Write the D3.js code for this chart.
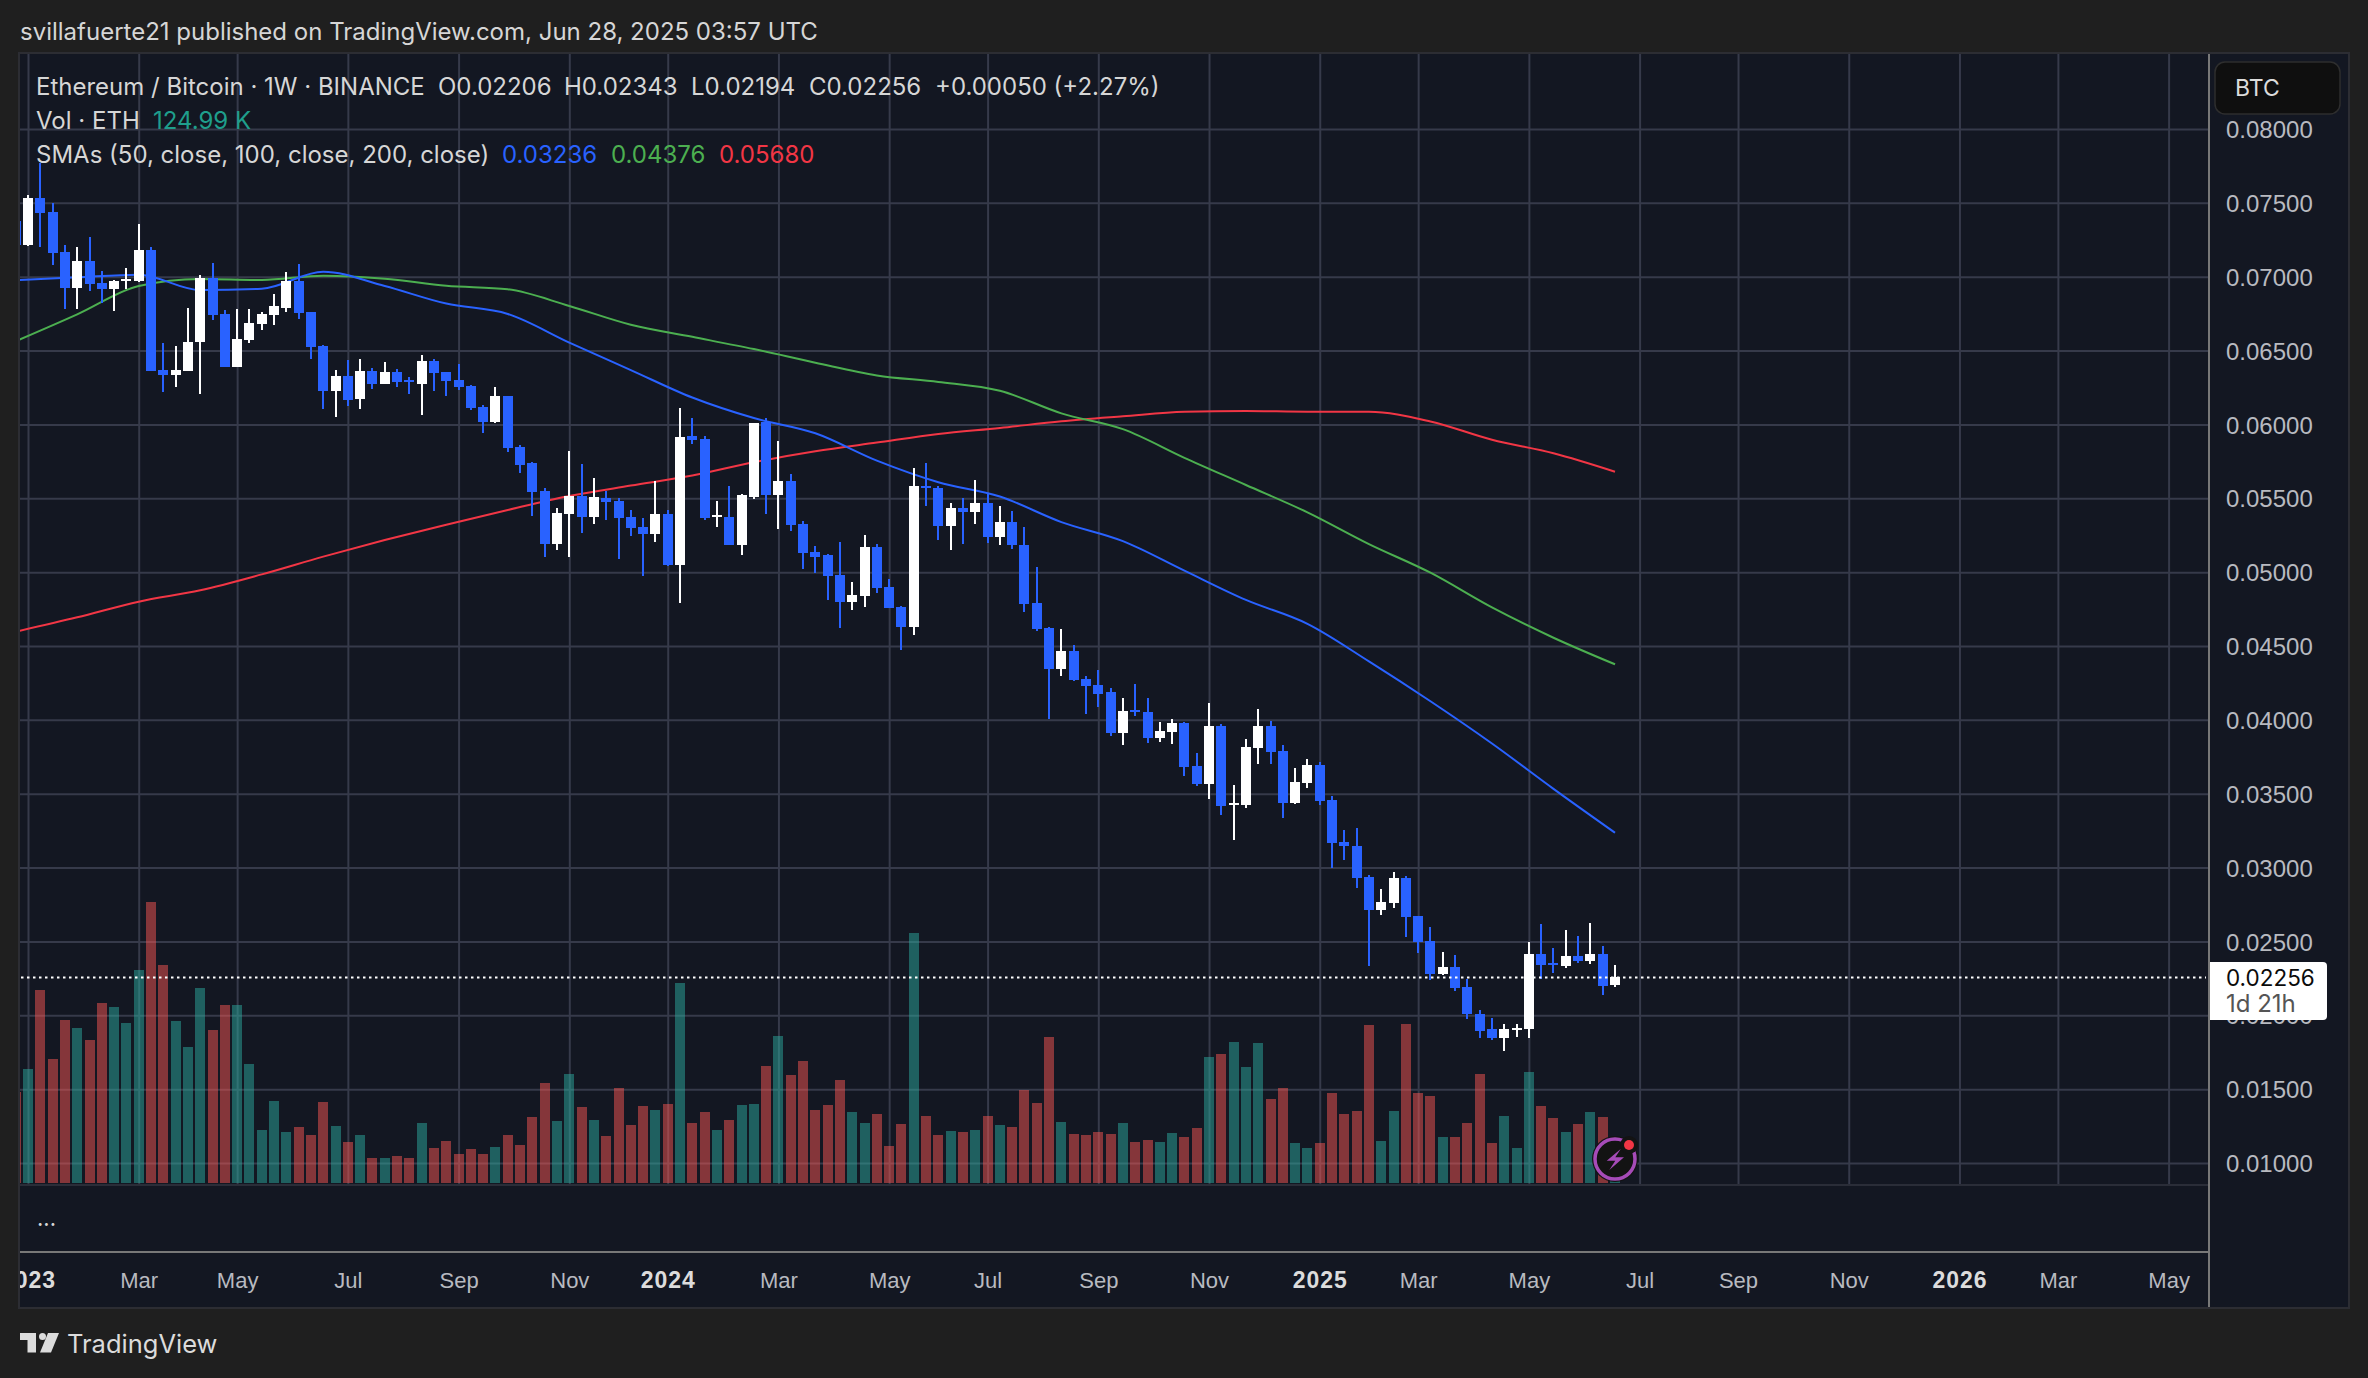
<!DOCTYPE html>
<html>
<head>
<meta charset="utf-8">
<script src="https://cdn.jsdelivr.net/npm/d3@7"></script>
<style>
  html, body { margin: 0; padding: 0; background: #1f1f1f; }
  svg { display: block; font-family: Inter, "Noto Sans", sans-serif; }
</style>
</head>
<body>
<div id="chart"></div>
<script>
// Weekly candles, index 0 is the one clipped by the left edge, index 130 the last one
const openP = [
  .0738, .07215, .07533, .07438, .07167, .06924, .07107, .06958, .06917, .06973,
  .06971, .07181, .06368, .06335, .06362, .06558, .06991, .06748, .06389, .06572,
  .0668, .06741, .0679, .06971, .06761, .06531, .06226, .06328, .06172, .06362,
  .06274, .06355, .06301, .06274, .06429, .06355, .06301, .0626, .06118, .06016,
  .06192, .05847, .05739, .05549, .0519, .05393, .05515, .05373, .05505, .05485,
  .0537, .05303, .05255, .05397, .05046, .05924, .05904, .0537, .0537, .05181,
  .05512, .06018, .05519, .0562, .05323, .05134, .05114, .04979, .04797, .04837,
  .05168, .04898, .04763, .04628, .05586, .05573, .0531, .05431, .05404, .05471,
  .05235, .05337, .05181, .0479, .04619, .04342, .04463, .04274, .04234, .04186,
  .03909, .04065, .04051, .03876, .03916, .03977, .03687, .03565, .03957, .03425,
  .03423, .03808, .03957, .03788, .03437, .03572, .03693, .03457, .03173, .03146,
  .02937, .02712, .0276, .0293, .02672, .02502, .02277, .02325, .02189, .02012,
  .01904, .01849, .01904, .01904, .02413, .02352, .02332, .024, .02366, .02413,
  .02206
];
const highP = [
  .0745, .07553, .0777, .07497, .07215, .07201, .07269, .0704, .06978, .07059,
  .07357, .07201, .06551, .06531, .0679, .07012, .07093, .06775, .06782, .06782,
  .06761, .06883, .07032, .07086, .06761, .06538, .06368, .06436, .06443, .06382,
  .06423, .06375, .06321, .0647, .06443, .06355, .06409, .06267, .06131, .06253,
  .06192, .05861, .05746, .0557, .05434, .0582, .05732, .05637, .05546, .05499,
  .05424, .05364, .0562, .05418, .06113, .06045, .05924, .05485, .05586, .05532,
  .06012, .06045, .0589, .05667, .05343, .05175, .0512, .05202, .04931, .05249,
  .05188, .04952, .0477, .05708, .05741, .0558, .05465, .05505, .05627, .05532,
  .05451, .05411, .05303, .05033, .04632, .04612, .04504, .04295, .04335, .04213,
  .04146, .04241, .04146, .03984, .04004, .03984, .03774, .04112, .0397, .03558,
  .03869, .04072, .03991, .03828, .03673, .03734, .03714, .03484, .03254, .03268,
  .0295, .02855, .02971, .02943, .02672, .02597, .02427, .02407, .02243, .02033,
  .01985, .01944, .01938, .02495, .02617, .02454, .02576, .02536, .02624, .02468,
  .02343
];
const lowP = [
  .0718, .07208, .07201, .07079, .06782, .06782, .06903, .06822, .06768, .06917,
  .06964, .06362, .0622, .06253, .06362, .06206, .06707, .06389, .06389, .06551,
  .06639, .06673, .06761, .06714, .06443, .06104, .0605, .06125, .06104, .0624,
  .06274, .06253, .06206, .06064, .06226, .06192, .06233, .06098, .05942, .0601,
  .05813, .05671, .0538, .05102, .0515, .05102, .05265, .05326, .0535, .05087,
  .05242, .04972, .05202, .05042, .0479, .0587, .0535, .05303, .05181, .05114,
  .05492, .05391, .05289, .05276, .05019, .04992, .0481, .04621, .04743, .04763,
  .04857, .04756, .04473, .04574, .05451, .05215, .05148, .05188, .05323, .05195,
  .05181, .05154, .04729, .04601, .04004, .04295, .04261, .04038, .04085, .03889,
  .03828, .04024, .03842, .03849, .03835, .03619, .03551, .03464, .03355, .03187,
  .03403, .037, .037, .03335, .0343, .03538, .03423, .02997, .03051, .02862,
  .02332, .02678, .02726, .02529, .0242, .02237, .02271, .02162, .01978, .01849,
  .01836, .01761, .01856, .01849, .02243, .02284, .02318, .02352, .02345, .02135,
  .02194
];
const closeP = [
  .07215, .07533, .07432, .07161, .06924, .07107, .06951, .06917, .06971, .06985,
  .07181, .06362, .06335, .06368, .0656, .06991, .06741, .06389, .06578, .06687,
  .06748, .06802, .06971, .06754, .06524, .06226, .06328, .06165, .06362, .06274,
  .06355, .06287, .06287, .06429, .06348, .06294, .06253, .06111, .06016, .06192,
  .0584, .05725, .05543, .0519, .054, .05515, .05373, .05509, .05478, .05364,
  .05296, .05255, .05391, .05046, .05917, .05897, .05364, .05384, .05181, .05519,
  .06012, .05519, .0562, .05316, .05127, .051, .04972, .04797, .04844, .05168,
  .04891, .04756, .04628, .0558, .05573, .0531, .05431, .05404, .05471, .05235,
  .05337, .05181, .04783, .04614, .04342, .04463, .04268, .04227, .04173, .03909,
  .04058, .04051, .03876, .03923, .03977, .0368, .03565, .03957, .03416, .03439,
  .03815, .03957, .03781, .03437, .03578, .03693, .0345, .03166, .03146, .0293,
  .02712, .02767, .0293, .02665, .02495, .02277, .02325, .02182, .02006, .01897,
  .01849, .01904, .01917, .02413, .02339, .02339, .024, .02366, .02413, .02196,
  .02256
];
// Volume, thousands of ETH
const volumeK = [
  365, 456, 772, 496, 652, 620, 572, 720, 704, 640,
  852, 1124, 872, 648, 544, 780, 612, 712, 712, 476,
  212, 328, 204, 224, 192, 324, 228, 164, 192, 100,
  100, 108, 100, 240, 140, 168, 116, 136, 116, 144,
  192, 152, 264, 400, 248, 436, 304, 252, 188, 380,
  232, 308, 292, 316, 800, 240, 284, 212, 252, 312,
  316, 468, 588, 432, 488, 292, 312, 412, 284, 240,
  276, 148, 236, 1000, 268, 192, 208, 204, 212, 268,
  232, 224, 372, 320, 584, 244, 196, 192, 204, 196,
  240, 164, 172, 164, 200, 184, 220, 504, 516, 564,
  464, 560, 336, 380, 160, 140, 160, 360, 276, 288,
  632, 168, 288, 636, 360, 348, 184, 184, 240, 436,
  160, 268, 140, 444, 308, 260, 204, 236, 284, 264,
  125
];
// SMA readings, one every five weeks
const smaWeeks = [0, 5, 10, 15, 20, 25, 30, 35, 40, 45, 50, 55, 60, 65, 70, 75, 80, 85, 90, 95, 100, 105, 110, 115, 120, 125, 130];
const sma50 = [.06976, .06996, .07014, .0691, .06919, .07034, .06937, .06818, .06748, .06554, .06368, .06182, .06043, .0594, .05755, .05609, .05512, .05339, .0521, .0501, .04812, .0465, .04396, .04126, .0384, .03533, .03236];
const sma100 = [.06563, .06745, .06937, .06985, .06978, .07007, .06987, .06939, .06915, .06802, .06675, .06593, .0651, .06418, .06332, .06288, .06228, .06075, .05968, .05774, .0559, .05405, .0519, .04996, .04761, .04556, .04376];
const sma200 = [.04597, .04694, .048, .04877, .04985, .05105, .05217, .05321, .05421, .05515, .05586, .05654, .05744, .05818, .05877, .05935, .05976, .06021, .06055, .06086, .06091, .06086, .06086, .0602, .05896, .05805, .0568];

const priceTicks = [.08, .075, .07, .065, .06, .055, .05, .045, .04, .035, .03, .025, .02, .015, .01];
const timeWeeks = [1, 10, 18, 27, 36, 45, 53, 62, 71, 79, 88, 97, 106, 114, 123, 132, 140, 149, 158, 166, 175];
const timeLabels = ["2023", "Mar", "May", "Jul", "Sep", "Nov", "2024", "Mar", "May", "Jul", "Sep", "Nov", "2025", "Mar", "May", "Jul", "Sep", "Nov", "2026", "Mar", "May"];
const lastPrice = .02256;

const width = 2368, height = 1378;
const paneLeft = 20, paneTop = 54, axisX = 2209, paneRight = 2348;
const mainBottom = 1184, subBottom = 1252, paneBottom = 1307;

const colors = { page: "#1f1f1f", pane: "#131722", grid: "#363a4a", up: "#ffffff", down: "#2962ff",
  volUp: "rgba(43,169,158,.5)", volDown: "rgba(247,85,82,.5)", text: "#d6d6d6", axis: "#b8bac0" };

const svg = d3.select("#chart").append("svg")
  .attr("width", width).attr("height", height).attr("viewBox", `0 0 ${width} ${height}`);

svg.append("rect").attr("width", width).attr("height", height).attr("fill", colors.page);
svg.append("rect")
  .attr("x", paneLeft - 1).attr("y", paneTop - 1)
  .attr("width", paneRight - paneLeft + 2).attr("height", paneBottom - paneTop + 2)
  .attr("fill", colors.pane).attr("stroke", "#2c2d33").attr("stroke-width", 2);

svg.append("clipPath").attr("id", "pane-clip").append("rect")
  .attr("x", paneLeft).attr("y", paneTop).attr("width", axisX - paneLeft).attr("height", mainBottom - paneTop);
svg.append("clipPath").attr("id", "time-clip").append("rect")
  .attr("x", paneLeft).attr("y", paneTop).attr("width", axisX - paneLeft).attr("height", paneBottom - paneTop);

const x = d3.scaleLinear().domain([1, 130]).range([28, 1615]);
const y = d3.scaleLinear().domain([.01, .08]).range([1163, 129]);
const yVol = d3.scaleLinear().domain([0, 1200]).range([1183, 883]);

// grid
svg.append("g").attr("clip-path", "url(#pane-clip)").append("g")
  .attr("transform", `translate(0,${mainBottom})`)
  .call(d3.axisBottom(x).tickValues(timeWeeks).tickSize(-(mainBottom - paneTop)).tickFormat(""))
  .call(g => g.select(".domain").remove())
  .selectAll("line").attr("stroke", colors.grid).attr("stroke-width", 2);

svg.append("g")
  .attr("transform", `translate(${paneLeft},0)`)
  .call(d3.axisRight(y).tickValues(priceTicks).tickSize(axisX - paneLeft).tickFormat(""))
  .call(g => g.select(".domain").remove())
  .selectAll("line").attr("stroke", colors.grid).attr("stroke-width", 2);

const plot = svg.append("g").attr("clip-path", "url(#pane-clip)");

// volume bars
plot.append("g").selectAll("rect")
  .data(volumeK)
  .join("rect")
  .attr("x", (d, i) => Math.round(x(i)) - 5)
  .attr("width", 10)
  .attr("y", d => yVol(d))
  .attr("height", d => yVol(0) - yVol(d))
  .attr("fill", (d, i) => closeP[i] >= openP[i] ? colors.volUp : colors.volDown)
  .attr("shape-rendering", "crispEdges");

// SMAs
const smaLine = d3.line()
  .x((d, i) => x(smaWeeks[i]))
  .y(d => y(d))
  .curve(d3.curveMonotoneX);

[[sma200, "#f23645"], [sma100, "#4caf50"], [sma50, "#2962ff"]].forEach(([values, color]) => {
  plot.append("path")
    .datum(values)
    .attr("fill", "none")
    .attr("stroke", color)
    .attr("stroke-width", 2)
    .attr("d", smaLine);
});

// candles
const candles = plot.append("g").selectAll("g")
  .data(closeP.map((c, i) => i))
  .join("g")
  .attr("fill", i => closeP[i] >= openP[i] ? colors.up : colors.down)
  .attr("shape-rendering", "crispEdges");

candles.append("rect")
  .attr("x", i => Math.round(x(i)) - 1)
  .attr("width", 2)
  .attr("y", i => y(highP[i]))
  .attr("height", i => y(lowP[i]) - y(highP[i]));

candles.append("rect")
  .attr("x", i => Math.round(x(i)) - 5)
  .attr("width", 10)
  .attr("y", i => y(Math.max(openP[i], closeP[i])))
  .attr("height", i => Math.max(2, Math.abs(y(openP[i]) - y(closeP[i]))));

// last price dotted line
svg.append("line")
  .attr("x1", paneLeft + 1).attr("x2", axisX - 3)
  .attr("y1", y(lastPrice)).attr("y2", y(lastPrice))
  .attr("stroke", "#ffffff").attr("stroke-width", 2)
  .attr("stroke-dasharray", "2.5,3.5");

// separators
svg.append("line").attr("x1", paneLeft).attr("x2", axisX)
  .attr("y1", mainBottom + 1).attr("y2", mainBottom + 1)
  .attr("stroke", "#2a2d38").attr("stroke-width", 2);
svg.append("line").attr("x1", paneLeft).attr("x2", axisX + 1)
  .attr("y1", subBottom).attr("y2", subBottom)
  .attr("stroke", "#787878").attr("stroke-width", 2);
svg.append("line").attr("x1", axisX).attr("x2", axisX)
  .attr("y1", paneTop).attr("y2", paneBottom)
  .attr("stroke", "#787878").attr("stroke-width", 2);

// price axis
svg.append("g")
  .attr("transform", `translate(${axisX},1)`)
  .call(d3.axisRight(y).tickValues(priceTicks).tickSize(0).tickPadding(17).tickFormat(d3.format(".5f")))
  .call(g => g.select(".domain").remove())
  .selectAll("text")
  .attr("fill", colors.axis)
  .style("font-size", "24px")
  .style("font-family", "inherit");

// time axis
svg.append("g")
  .attr("clip-path", "url(#time-clip)")
  .append("g")
  .attr("transform", `translate(0,${subBottom})`)
  .call(d3.axisBottom(x).tickValues(timeWeeks).tickSize(0).tickPadding(20).tickFormat((d, i) => timeLabels[i]))
  .call(g => g.select(".domain").remove())
  .selectAll("text")
  .attr("fill", (d, i) => /^\d/.test(timeLabels[i]) ? "#dcdcdc" : colors.axis)
  .style("font-size", (d, i) => /^\d/.test(timeLabels[i]) ? "23px" : "22px")
  .style("letter-spacing", (d, i) => /^\d/.test(timeLabels[i]) ? "1px" : "0")
  .style("font-weight", (d, i) => /^\d/.test(timeLabels[i]) ? 600 : 400)
  .style("font-family", "inherit");

// BTC button
svg.append("rect").attr("x", 2215).attr("y", 62).attr("width", 125).attr("height", 52).attr("rx", 10)
  .attr("fill", "#0f0f0f").attr("stroke", "#2e2e2e").attr("stroke-width", 1.5);
svg.append("text").attr("x", 2235).attr("y", 96).attr("fill", "#dcdcdc").style("font-size", "23px").text("BTC");

// last price tag
svg.append("path")
  .attr("d", "M2210,962H2323a4,4 0 0 1 4,4V1016a4,4 0 0 1 -4,4H2210Z")
  .attr("fill", "#ffffff");
svg.append("text").attr("x", 2226).attr("y", 986).attr("fill", "#0b0b0b").style("font-size", "22.5px").text(d3.format(".5f")(lastPrice));
svg.append("text").attr("x", 2226).attr("y", 1012).attr("fill", "#555555").style("font-size", "24px").text("1d 21h");

// texts
const addText = (tx, ty, str, fill, size = 24) => svg.append("text")
  .attr("x", tx).attr("y", ty).attr("fill", fill).style("font-size", `${size}px`).text(str);

addText(20, 40, "svillafuerte21 published on TradingView.com, Jun 28, 2025 03:57 UTC", colors.text);
addText(36, 94.5, "Ethereum / Bitcoin · 1W · BINANCE", colors.text);
addText(438, 94.5, "O0.02206", colors.text);
addText(564, 94.5, "H0.02343", colors.text);
addText(691, 94.5, "L0.02194", colors.text);
addText(809, 94.5, "C0.02256", colors.text);
addText(935, 94.5, "+0.00050 (+2.27%)", colors.text);
addText(36, 128.5, "Vol · ETH", colors.text);
addText(153, 128.5, "124.99 K", "#1f9e8c");
addText(36, 162.5, "SMAs (50, close, 100, close, 200, close)", colors.text);
addText(502, 162.5, "0.03236", "#2962ff");
addText(611, 162.5, "0.04376", "#4caf50");
addText(719, 162.5, "0.05680", "#f23645");
addText(37, 1226, "...", colors.text, 22);

// lightning badge
const badge = svg.append("g").attr("transform", `translate(${x(130)},1159)`);
badge.append("circle").attr("r", 23).attr("fill", "#131313");
badge.append("circle").attr("r", 20).attr("fill", "none").attr("stroke", "#a64bb8").attr("stroke-width", 3.5);
badge.append("path").attr("d", "M5.7,-10L-8.3,1.7H0.3L-5.7,11L9,-1.7H0.3Z").attr("fill", "#a64bb8");
badge.append("circle").attr("cx", 14).attr("cy", -14).attr("r", 9).attr("fill", "#131313");
badge.append("circle").attr("cx", 14).attr("cy", -14).attr("r", 5).attr("fill", "#f23645");

// logo
const logo = svg.append("g").attr("transform", "translate(20,1333)").attr("fill", "#dcdcdc");
logo.append("path").attr("d", "M0,0H16V19.5H7.5V7H0Z");
logo.append("circle").attr("cx", 22.5).attr("cy", 3.5).attr("r", 3.5);
logo.append("path").attr("d", "M28,0H39L31,19.5H20Z");
addText(67, 1353, "TradingView", "#dcdcdc", 25.5);
</script>
</body>
</html>
